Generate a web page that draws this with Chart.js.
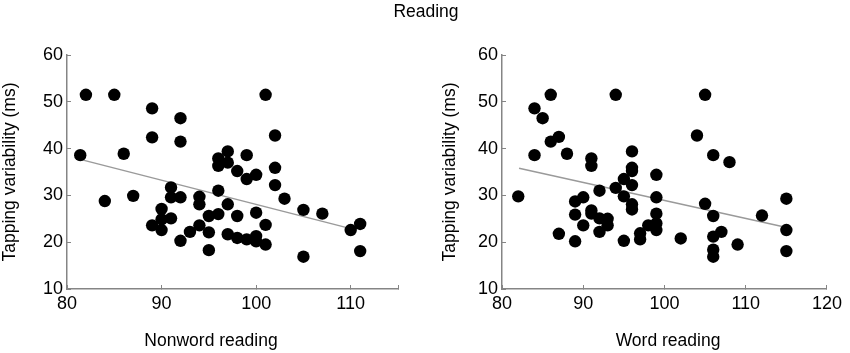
<!DOCTYPE html>
<html>
<head>
<meta charset="utf-8">
<script src="https://cdn.jsdelivr.net/npm/chart.js@4.4.0/dist/chart.umd.min.js"></script>
<style>
  html, body { margin: 0; padding: 0; background: #fff; }
  #wrap { position: relative; width: 850px; height: 353px; font-family: 'Liberation Sans', Arial, sans-serif; color: #000; }
  .box { position: absolute; top: 0; width: 425px; height: 353px; }
  .lbl { position: absolute; white-space: nowrap; text-align: center; }
</style>
</head>
<body>
<div id="wrap">
  <div class="box" style="left:0"><canvas id="nonwordChart" width="425" height="353"></canvas></div>
  <div class="box" style="left:425px"><canvas id="wordChart" width="425" height="353"></canvas></div>
  <div class="lbl" style="left:0;width:852px;top:1px;font-size:17.5px;line-height:20px">Reading</div>
  <div class="lbl" style="left:111px;width:200px;top:330px;font-size:17.5px;line-height:20px">Nonword reading</div>
  <div class="lbl" style="left:568px;width:200px;top:330px;font-size:17.5px;line-height:20px">Word reading</div>
</div>
<script>
/* ---- dane: czytanie pseudosłów (lewy panel) ---- */
const nonwordX = [82, 85, 81.4, 86, 89, 89, 92, 92, 96, 96, 97, 97, 98, 99, 99, 100, 101, 102, 102, 102,
  103, 84, 87, 91, 91, 92, 94, 94, 96, 97, 90, 90, 90, 89, 91, 92, 93, 94, 95, 95,
  95, 96, 97, 98, 98, 99, 100, 100, 100, 101, 101, 105, 107, 105, 110, 111, 111];
const nonwordY = [51.5, 51.5, 38.6, 38.9, 48.6, 42.4, 46.5, 41.5, 37.9, 36.3, 39.4, 37.0, 35.2, 38.6, 33.5, 34.4, 51.5, 42.8, 35.9, 32.2,
  29.3, 28.8, 29.9, 31.7, 29.6, 29.6, 29.7, 28.1, 31.0, 28.1, 27.1, 24.9, 22.6, 23.6, 25.1, 20.3, 22.2, 23.6, 25.6, 22.1,
  18.3, 26.0, 21.7, 25.6, 20.9, 20.6, 26.3, 21.3, 20.2, 23.7, 19.5, 26.9, 26.1, 16.9, 22.6, 23.9, 18.1];
const nonwordFitX = [81.4, 110];
const nonwordFitY = [37.7, 22.9];

/* ---- dane: czytanie słów (prawy panel) ---- */
const wordX = [82, 84, 84, 85, 86, 86, 87, 87, 88, 89, 89, 89, 90, 90, 91, 91, 91, 91, 92, 92,
  92, 93, 93, 94, 94, 95, 95, 95, 96, 96, 96, 96, 96, 96, 97, 97, 98, 99, 99, 99,
  99, 99, 102, 104, 105, 105, 106, 106, 106, 106, 106, 107, 108, 109, 112, 115, 115, 115];
const wordY = [29.8, 48.6, 38.6, 46.5, 51.5, 41.5, 42.5, 21.8, 38.9, 28.7, 25.9, 20.2, 29.6, 23.6, 37.9, 36.3, 26.8, 26.1, 31.0, 25.1,
  22.2, 25.0, 23.6, 51.5, 31.6, 33.5, 29.8, 20.3, 39.4, 35.9, 35.2, 32.2, 28.1, 27.0, 21.9, 20.6, 23.6, 34.4, 29.6, 26.1,
  24.0, 22.6, 20.8, 42.8, 51.5, 28.2, 38.6, 25.6, 21.2, 18.4, 16.9, 22.2, 37.1, 19.5, 25.7, 29.3, 22.6, 18.1];
const wordFitX = [82.1, 114.9];
const wordFitY = [35.8, 23.2];

const yTicks = [10, 20, 30, 40, 50, 60];
const nonwordTicks = [80, 90, 100, 110];
const wordTicks = [80, 90, 100, 110, 120];

const FONT = "'Liberation Sans', Arial, sans-serif";
const AXIS_COLOR = '#858585';

function toPoints(xs, ys) {
    return xs.map((x, i) => ({ x: x, y: ys[i] }));
}

function drawPanel(canvasId, xs, ys, fitX, fitY, xMax, xTicks, yAxisWidth, rightPad, yTitlePad) {
    const ctx = document.getElementById(canvasId).getContext('2d');
    return new Chart(ctx, {
        type: 'scatter',
        data: {
            datasets: [
                {
                    data: toPoints(xs, ys),
                    backgroundColor: '#000',
                    borderColor: '#000',
                    pointRadius: 6.2,
                    borderWidth: 0
                },
                {
                    data: toPoints(fitX, fitY),
                    showLine: true,
                    pointRadius: 0,
                    borderColor: '#9a9a9a',
                    borderWidth: 1.5
                }
            ]
        },
        options: {
            responsive: false,
            animation: false,
            events: [],
            layout: { padding: { top: 55, right: rightPad, left: 0, bottom: 0 } },
            plugins: {
                legend: { display: false },
                title: { display: false },
                tooltip: { enabled: false }
            },
            scales: {
                x: {
                    type: 'linear',
                    min: 80,
                    max: xMax,
                    afterBuildTicks: s => { s.ticks = xTicks.concat(xMax > xTicks[xTicks.length - 1] ? [xMax] : []).map(v => ({ value: v })); },
                    afterFit: s => { s.height = 64; },
                    border: { color: AXIS_COLOR, width: 1.5 },
                    grid: { drawOnChartArea: false, tickLength: -4, tickColor: AXIS_COLOR, tickWidth: 1 },
                    ticks: {
                        color: '#000',
                        padding: 8,
                        font: { family: FONT, size: 18 },
                        callback: v => xTicks.includes(v) ? String(v) : ''
                    }
                },
                y: {
                    type: 'linear',
                    min: 10,
                    max: 60,
                    afterBuildTicks: s => { s.ticks = yTicks.map(v => ({ value: v })); },
                    afterFit: s => { s.width = yAxisWidth; },
                    border: { color: AXIS_COLOR, width: 1.5 },
                    grid: { drawOnChartArea: false, tickLength: -4, tickColor: AXIS_COLOR, tickWidth: 1 },
                    ticks: {
                        color: '#000',
                        padding: 8,
                        font: { family: FONT, size: 18 }
                    },
                    title: {
                        display: true,
                        text: 'Tapping variability (ms)',
                        color: '#000',
                        padding: { top: yTitlePad, bottom: 0 },
                        font: { family: FONT, size: 17.5 }
                    }
                }
            }
        }
    });
}

drawPanel('nonwordChart', nonwordX, nonwordY, nonwordFitX, nonwordFitY, 115, nonwordTicks, 67, 27, 0);
drawPanel('wordChart', wordX, wordY, wordFitX, wordFitY, 120, wordTicks, 77, 15, 14.5);
</script>
</body>
</html>
